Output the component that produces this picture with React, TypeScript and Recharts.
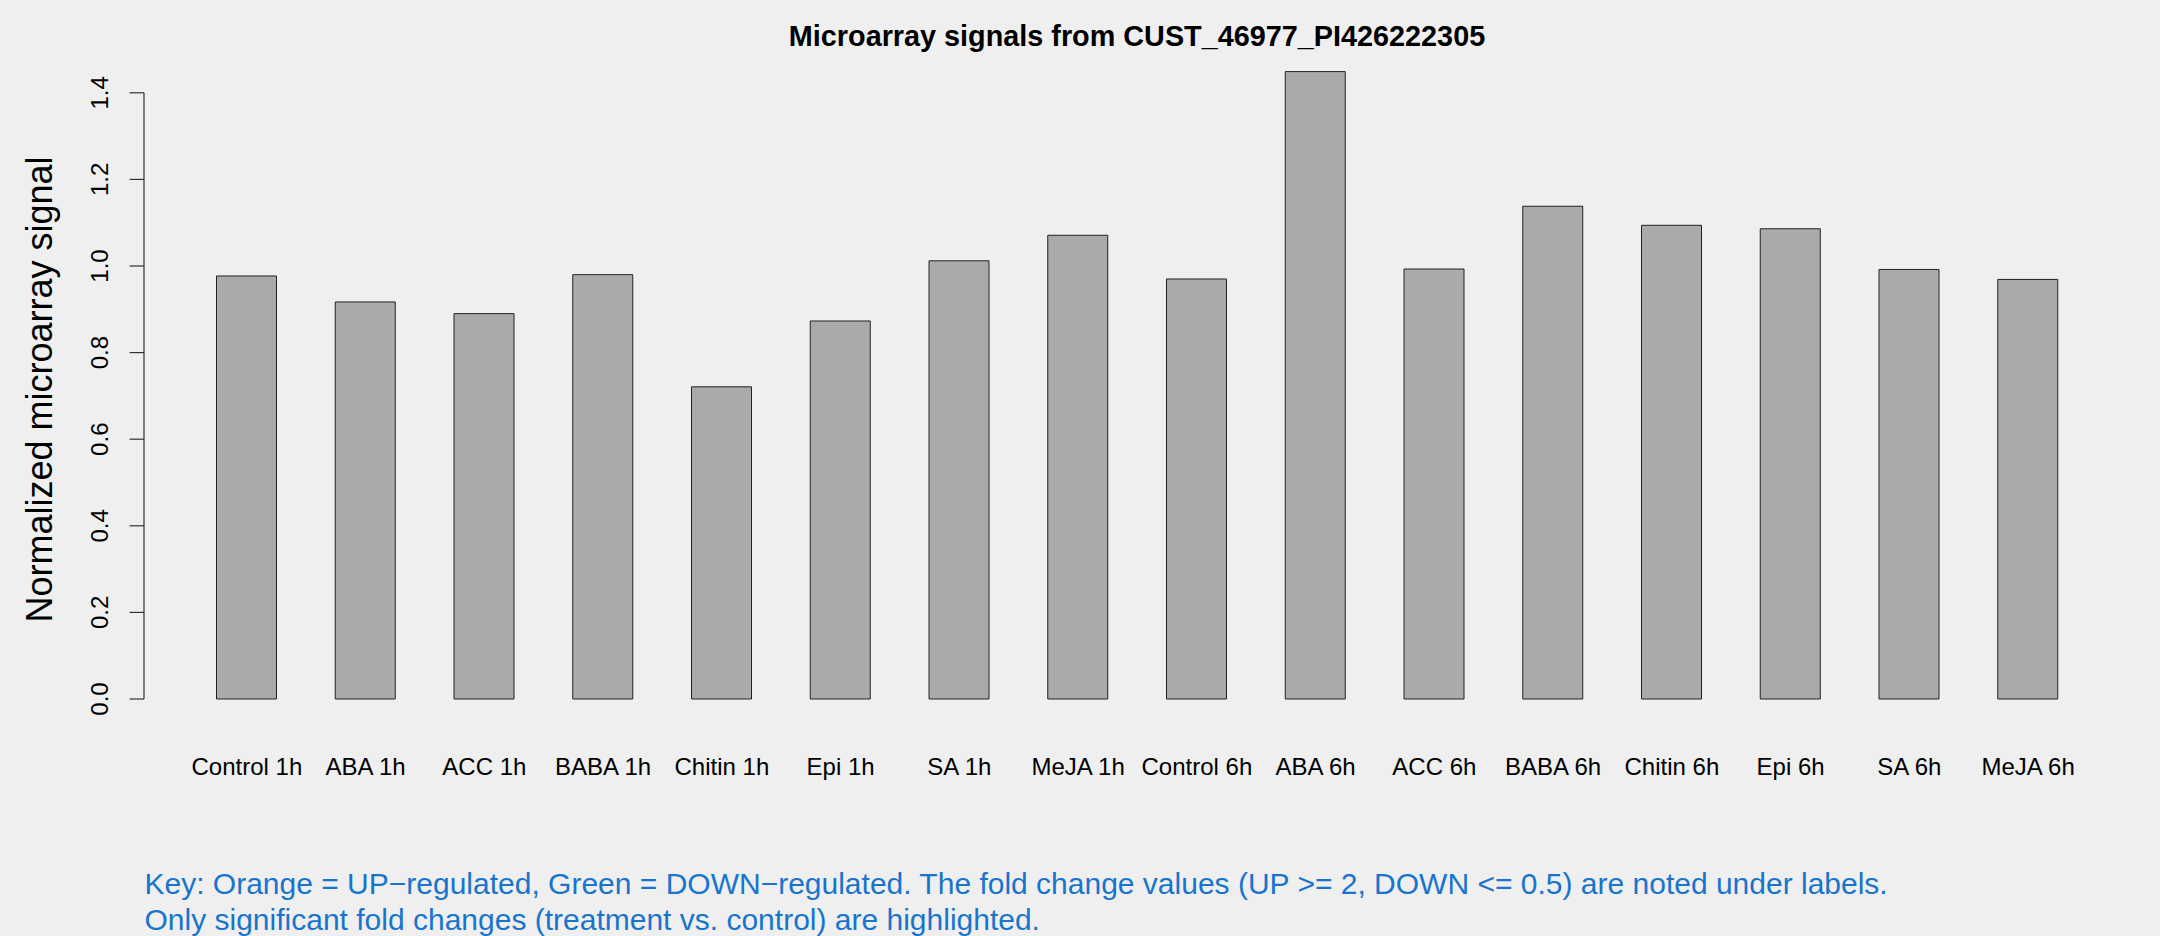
import * as Recharts from "recharts"
import { BarChart, Bar, XAxis, YAxis } from "recharts"

const categories = [
  "Control 1h", "ABA 1h", "ACC 1h", "BABA 1h", "Chitin 1h", "Epi 1h", "SA 1h", "MeJA 1h",
  "Control 6h", "ABA 6h", "ACC 6h", "BABA 6h", "Chitin 6h", "Epi 6h", "SA 6h", "MeJA 6h",
]
const signals = [
  0.977, 0.917, 0.890, 0.980, 0.721, 0.873, 1.012, 1.071,
  0.970, 1.449, 0.993, 1.138, 1.094, 1.086, 0.992, 0.969,
]
const yTicks = [0, 0.2, 0.4, 0.6, 0.8, 1.0, 1.2, 1.4]
const Y_MAX = 1.5

const title = "Microarray signals from CUST_46977_PI426222305"
const yLabel = "Normalized microarray signal"
const keyLines = [
  "Key: Orange = UP\u2212regulated, Green = DOWN\u2212regulated. The fold change values (UP >= 2, DOWN <= 0.5) are noted under labels.",
  "Only significant fold changes (treatment vs. control) are highlighted.",
]

const FONT = '"Liberation Sans", Arial, Helvetica, sans-serif'
const BG = "#efefef"
const W = 2160
const H = 936

const chartData = categories.map((c, i) => ({ name: c, signal: signals[i] }))

const anyRecharts = Recharts as any
const usePlotAreaSafe: () => any = anyRecharts.usePlotArea
  ? anyRecharts.usePlotArea
  : () => null

// R draws the y axis line only from the first to the last tick
function YAxisLine() {
  const area = usePlotAreaSafe()
  if (!area) return null
  const toY = (v: number) => area.y + area.height * (1 - v / Y_MAX)
  const lo = yTicks[0]
  const hi = yTicks[yTicks.length - 1]
  return (
    <line
      x1={area.x}
      x2={area.x}
      y1={toY(lo)}
      y2={toY(hi)}
      stroke="#333"
      strokeWidth={1.2}
    />
  )
}

function YTick(props: any) {
  const { x, y, payload } = props
  return (
    <g>
      <line x1={x - 14.4} x2={x} y1={y} y2={y} stroke="#333" strokeWidth={1.2} />
      <text
        transform={`translate(${x - 36},${y}) rotate(-90)`}
        textAnchor="middle"
        fontFamily={FONT}
        fontSize={24}
        fill="#000"
      >
        {Number(payload.value).toFixed(1)}
      </text>
    </g>
  )
}

function XTick(props: any) {
  const { x, y, payload } = props
  return (
    <text
      x={x}
      y={y + 76}
      textAnchor="middle"
      fontFamily={FONT}
      fontSize={24}
      fill="#000"
    >
      {payload.value}
    </text>
  )
}

export default function App() {
  return (
    <div
      style={{
        position: "absolute",
        left: 0,
        top: 0,
        width: W,
        height: H,
        background: BG,
        overflow: "hidden",
      }}
    >
      <BarChart
        width={W}
        height={H}
        data={chartData}
        margin={{ top: 49.5, right: 29, bottom: 167, left: 0 }}
      >
        <XAxis
          dataKey="name"
          height={70}
          axisLine={false}
          tickLine={false}
          tickSize={0}
          tickMargin={0}
          interval={0}
          padding={{ left: 43.5, right: 43.5 }}
          tick={<XTick />}
        />
        <YAxis
          width={144}
          domain={[0, Y_MAX]}
          ticks={yTicks}
          axisLine={false}
          tickLine={false}
          tickSize={0}
          tickMargin={0}
          tick={<YTick />}
        />
        <Bar
          dataKey="signal"
          barSize={60}
          fill="#aaaaaa"
          stroke="#222"
          strokeWidth={1}
          isAnimationActive={false}
        />
        <YAxisLine />
      </BarChart>
      <svg
        width={W}
        height={H}
        style={{ position: "absolute", left: 0, top: 0, pointerEvents: "none" }}
      >
        <text
          x={1137}
          y={46}
          textAnchor="middle"
          fontFamily={FONT}
          fontWeight="bold"
          fontSize={28.8}
          fill="#000"
        >
          {title}
        </text>
        <text
          transform="translate(52,389.5) rotate(-90)"
          textAnchor="middle"
          fontFamily={FONT}
          fontSize={36}
          fill="#000"
        >
          {yLabel}
        </text>
        {keyLines.map((line, i) => (
          <text
            key={i}
            x={144.5}
            y={894 + i * 35.5}
            fontFamily={FONT}
            fontSize={30}
            fill="#1874cd"
          >
            {line}
          </text>
        ))}
      </svg>
    </div>
  )
}
